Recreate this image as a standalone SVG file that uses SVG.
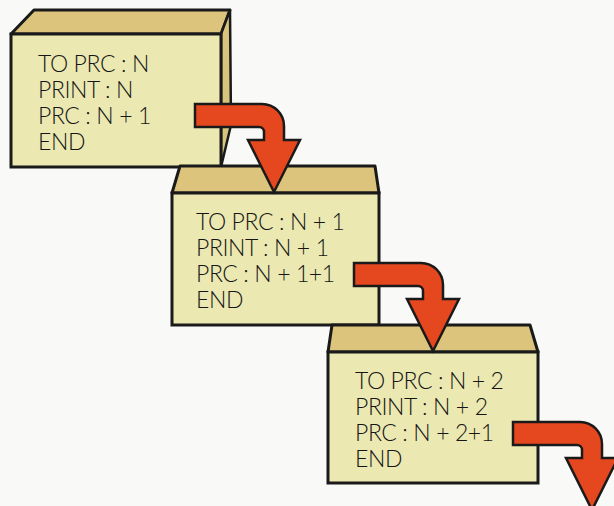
<svg xmlns="http://www.w3.org/2000/svg" width="614" height="506" viewBox="0 0 614 506">
<style>
.bg{fill:#f9f9f7}
.top{fill:#dcc47c;stroke:#1a1a1a;stroke-width:3;stroke-linejoin:round}
.side{fill:#d9c47e;stroke:#1a1a1a;stroke-width:2.5;stroke-linejoin:round}
.front{fill:#ebe8b2;stroke:#1a1a1a;stroke-width:3}
.txt{font-family:Lato,"Liberation Sans",sans-serif;font-weight:300;font-size:23px;letter-spacing:-0.4px;fill:#151515}
.arrow{fill:#e5471e;stroke:#1a1a1a;stroke-width:2.5;stroke-linejoin:miter}
</style>
<defs>
<path id="arr" d="M195,104 H262 A22,22 0 0 1 284,126 V140 H300 L274,192 L248,140 H264 V132 A5,5 0 0 0 259,127 H195 Z"/>
</defs>
<rect class="bg" x="0" y="0" width="614" height="506"/>
<g id="box1">
<polygon class="top" points="11,34 34,10 230,10 221,34"/>
<polygon class="side" points="221,34 230,10 231,125 221,167"/>
<rect class="front" x="11" y="34" width="210" height="133"/>
<text class="txt" x="38" y="72">TO PRC : N</text>
<text class="txt" x="38" y="98">PRINT : N</text>
<text class="txt" x="38" y="124">PRC : N + 1</text>
<text class="txt" x="38" y="150">END</text>
</g>
<g id="box2">
<polygon class="top" points="172,193 180,166 375,166 379,193"/>
<rect class="front" x="172" y="193" width="207" height="132"/>
<text class="txt" x="196" y="230">TO PRC : N + 1</text>
<text class="txt" x="196" y="256">PRINT : N + 1</text>
<text class="txt" x="196" y="282">PRC : N + 1+1</text>
<text class="txt" x="196" y="308">END</text>
</g>
<g id="box3">
<polygon class="top" points="328,352 332,325 530,325 538,352"/>
<rect class="front" x="328" y="352" width="210" height="131"/>
<text class="txt" x="355" y="389">TO PRC : N + 2</text>
<text class="txt" x="355" y="415">PRINT : N + 2</text>
<text class="txt" x="355" y="441">PRC : N + 2+1</text>
<text class="txt" x="355" y="467">END</text>
</g>
<g id="connectors">
<use href="#arr" class="arrow"/>
<use href="#arr" class="arrow" transform="translate(159,159)"/>
<use href="#arr" class="arrow" transform="translate(318,318)"/>
</g>
</svg>
